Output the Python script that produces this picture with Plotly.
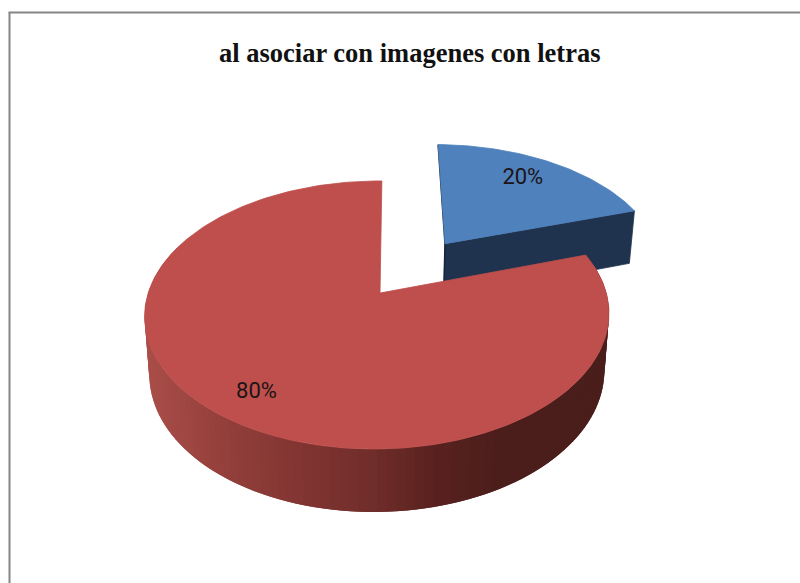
import math
import plotly.graph_objects as go

title = "al asociar con imagenes con letras"
labels = ["Serie A", "Serie B"]
values = [20, 80]
top_colors = ["#4f81bd", "#be4f4c"]
blue_side = "#1f334f"
blue_edge = "#17263c"

# Projection of the tilted disc onto the plot area
X0, Y0 = 380.0, 293.0
A, B = 229.0, 130.4
K, M, S = -0.164, 0.012, -2.2
EXPLODE = 0.5
BOTTOM_SCALE = 0.98
total = sum(values)
sweep = [v / total * 360 for v in values]


def den(u, v):
    return 1 + K * v + M * u


def top(u, v):
    d = den(u, v)
    return X0 + (A * u + S * v) / d, Y0 + B * v / d


def bottom(u, v):
    x, y = top(u, v)
    depth = 63 * (0.836 / den(u, v)) ** 0.6
    return X0 + (x - X0) * BOTTOM_SCALE, y + depth


def uv(deg, r=1.0, ox=0.0, oy=0.0):
    t = math.radians(deg)
    return ox + r * math.sin(t), oy - r * math.cos(t)


def poly(points, color, name, lw=0.8):
    xs = [p[0] for p in points] + [points[0][0]]
    ys = [p[1] for p in points] + [points[0][1]]
    return go.Scatter(x=xs, y=ys, mode="lines", fill="toself", fillcolor=color,
                      line=dict(color=color, width=lw), hoverinfo="skip",
                      showlegend=False, name=name)


def lerp_color(stops, x):
    for (x1, c1), (x2, c2) in zip(stops, stops[1:]):
        if x <= x2:
            f = max(0.0, (x - x1) / (x2 - x1))
            c = [round(a + (b - a) * f) for a, b in zip(c1, c2)]
            return "rgb(%d,%d,%d)" % tuple(c)
    return "rgb(%d,%d,%d)" % stops[-1][1]


side_stops = [(145, (170, 78, 73)), (230, (146, 62, 58)), (310, (128, 52, 49)),
              (375, (112, 45, 42)), (440, (88, 33, 30)), (500, (75, 30, 27)),
              (610, (74, 30, 27))]

fig = go.Figure()

# Exploded slice (first value): sweeps from 0 degrees clockwise
a_mid = sweep[0] / 2
ox, oy = uv(a_mid, EXPLODE)
ox += 0.006
apex = (ox, oy)
corner0 = uv(0, 1, ox, oy)
corner1 = uv(sweep[0], 1, ox, oy)
fig.add_trace(poly([top(*apex), top(*corner1), bottom(*corner1), bottom(*apex)],
                   blue_side, labels[0]))
edge = [top(*corner0), top(*apex), bottom(*apex)]
fig.add_trace(go.Scatter(x=[p[0] for p in edge], y=[p[1] for p in edge], mode="lines",
                         line=dict(color=blue_edge, width=1.6), hoverinfo="skip",
                         showlegend=False, name=labels[0]))
blue_top = [top(*apex)] + [top(*uv(sweep[0] * i / 60, 1, ox, oy)) for i in range(61)]
fig.add_trace(poly(blue_top, top_colors[0], labels[0]))

# Large slice side wall as overlapping gradient strips, then its top face
start = sweep[0]
step = 2.0
d = start
while d < 292:
    p, q, q2 = uv(d), uv(d + step / 2), uv(d + step * 2)
    tp, tq, bq, bp = top(*p), top(*q2), bottom(*q2), bottom(*p)
    color = lerp_color(side_stops, (top(*p)[0] + top(*q)[0]) / 2)
    fig.add_trace(poly([tp, tq, bq, bp], color, labels[1], lw=0))
    d += step
red_top = [(X0, Y0)] + [top(*uv(start + sweep[1] * i / 240)) for i in range(241)]
fig.add_trace(poly(red_top, top_colors[1], labels[1]))

# Percent labels
lab0 = top(*uv(a_mid - 2, 0.76, ox, oy))
lab1 = top(*uv(start + sweep[1] / 2 - 1, 0.82))
fig.add_trace(go.Scatter(
    x=[lab0[0], lab1[0]], y=[lab0[1], lab1[1]], mode="text",
    text=[f"{v}%" for v in values], textposition="middle center",
    textfont=dict(family="Roboto, sans-serif", size=22, color="#1c1416"),
    hoverinfo="skip", showlegend=False))

fig.update_layout(
    width=800, height=583, margin=dict(l=0, r=0, t=0, b=0),
    paper_bgcolor="white", plot_bgcolor="white", showlegend=False,
    xaxis=dict(range=[0, 800], visible=False, fixedrange=True),
    yaxis=dict(range=[583, 0], visible=False, fixedrange=True),
    annotations=[dict(x=409.5, y=53, xref="x", yref="y", text=f"<b>{title}</b>", showarrow=False,
                      xanchor="center", yanchor="middle",
                      font=dict(family="Liberation Serif, serif", size=26.5, color="#111111"))],
    shapes=[dict(type="line", xref="x", yref="y", x0=9.5, y0=583, x1=9.5, y1=12.5,
                 line=dict(color="#868686", width=2)),
            dict(type="line", xref="x", yref="y", x0=8.5, y0=12.5, x1=800, y1=12.5,
                 line=dict(color="#868686", width=2))],
)
fig.write_html("out.html", config={"displayModeBar": False},
               post_script="document.body.style.margin='0';document.documentElement.style.overflow='hidden';")
